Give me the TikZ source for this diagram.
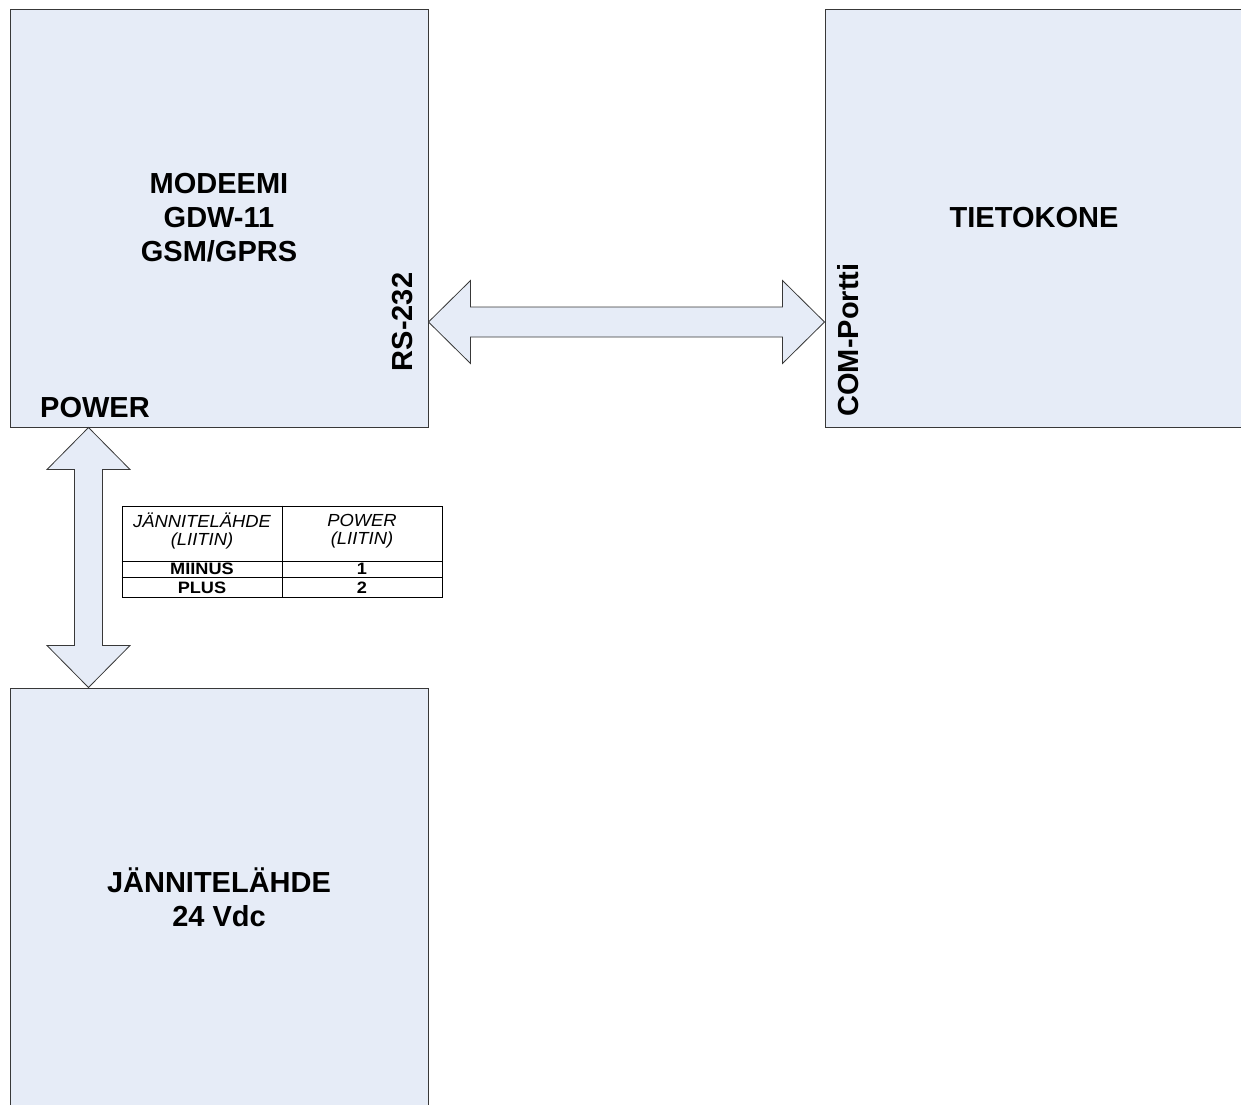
\documentclass[tikz,border=0pt]{standalone}
\usepackage{fontspec}
\setmainfont{Liberation Sans}
\usetikzlibrary{calc}
\definecolor{boxfill}{HTML}{E6ECF7}
\definecolor{boxline}{HTML}{383838}
\begin{document}
\begin{tikzpicture}[x=1pt,y=-1pt,
  blk/.style={draw=boxline, fill=boxfill, line width=1pt, minimum width=418pt, minimum height=418pt, inner sep=0pt, align=center, font=\bfseries\fontsize{29}{34}\selectfont},
  lbl/.style={font=\bfseries\fontsize{29}{34}\selectfont, inner sep=0pt},
  barrow/.style={draw=boxline, fill=boxfill, line width=0.8pt, line join=miter},
  tline/.style={draw=black, line width=0.9pt},
  cellh/.style={inner sep=0pt, align=center, xscale=1.05, font=\itshape\fontsize{17.5}{18}\selectfont},
  cellb/.style={inner sep=0pt, xscale=1.1, font=\bfseries\fontsize{16.5}{18}\selectfont}]
\useasboundingbox (0,0) rectangle (1241,1104);
% boxes
\node[blk] (modem) at (219,218) {MODEEMI\\GDW-11\\GSM/GPRS};
\node[blk] (pc) at (1034,218) {TIETOKONE};
\node[blk] (psu) at (219,897) {JÄNNITELÄHDE\\24 Vdc};
% port labels
\node[lbl, anchor=base west] (pwr) at (40,417) {POWER};
\node[lbl, rotate=90, anchor=base] (rs) at (412,322) {RS-232};
\node[lbl, rotate=90, anchor=base] (com) at (858,340) {COM-Portti};
% horizontal double block arrow
\coordinate (hl) at ($(modem.east)+(0,104)$);
\coordinate (hr) at ($(pc.west)+(0,104)$);
\draw[barrow] (hl) -- ++(42,-41.5) -- ++(0,26.5) -- ($(hr)+(-42,-15)$) -- ++(0,-26.5) -- (hr)
  -- ++(-42,41.5) -- ++(0,-26.5) -- ($(hl)+(42,15)$) -- ++(0,26.5) -- cycle;
% vertical double block arrow
\coordinate (vt) at ($(modem.south)+(-130.5,0)$);
\coordinate (vb) at ($(psu.north)+(-130.5,0)$);
\draw[barrow] (vt) -- ++(41.5,42) -- ++(-27.5,0) -- ($(vb)+(14,-42)$) -- ++(27.5,0) -- (vb)
  -- ++(-41.5,-42) -- ++(27.5,0) -- ($(vt)+(-14,42)$) -- ++(-27.5,0) -- cycle;
% table
\node[tline, fill=white, minimum width=320pt, minimum height=91pt, inner sep=0pt] (tbl) at (282,551.5) {};
\draw[tline] (tbl.north) -- (tbl.south);
\draw[tline] ($(tbl.north west)+(0,56)$) -- ($(tbl.north east)+(0,56)$);
\draw[tline] ($(tbl.north west)+(0,72)$) -- ($(tbl.north east)+(0,72)$);
\node[cellh] (h1) at (202,531) {JÄNNITELÄHDE\\(LIITIN)};
\node[cellh] (h2) at (362,531) {POWER\\(LIITIN)};
\node[cellb, anchor=base] (r1a) at (202,574) {MIINUS};
\node[cellb, anchor=base] (r1b) at (362,574) {1};
\node[cellb, anchor=base] (r2a) at (202,593) {PLUS};
\node[cellb, anchor=base] (r2b) at (362,593) {2};
\end{tikzpicture}
\end{document}
